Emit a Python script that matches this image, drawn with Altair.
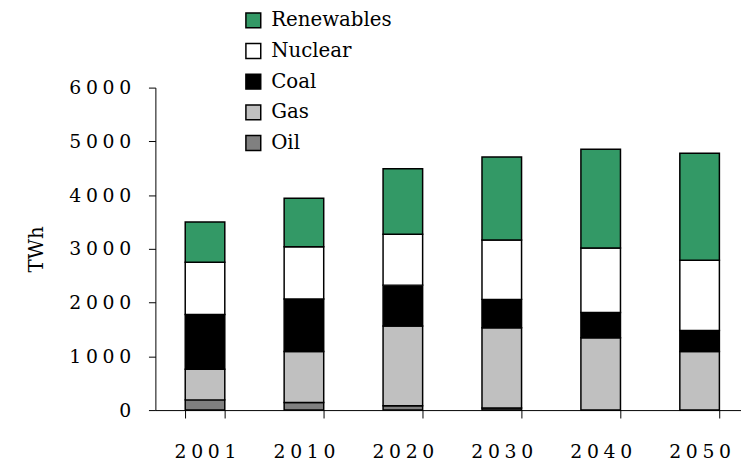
import altair as alt
import pandas as pd

years = ["2001", "2010", "2020", "2030", "2040", "2050"]
sources = ["Renewables", "Nuclear", "Coal", "Gas", "Oil"]
stack_rank = {"Oil": 0, "Gas": 1, "Coal": 2, "Nuclear": 3, "Renewables": 4}
colors = ["#339966", "#ffffff", "#000000", "#c0c0c0", "#808080"]

oil = [190, 140, 80, 40, 0, 0]
gas = [570, 950, 1485, 1490, 1345, 1090]
coal = [1020, 975, 760, 530, 470, 390]
nuclear = [970, 975, 945, 1105, 1200, 1310]
renewables = [750, 900, 1220, 1545, 1840, 1990]

series = {"Oil": oil, "Gas": gas, "Coal": coal, "Nuclear": nuclear, "Renewables": renewables}
rows = []
for src, vals in series.items():
    for y, v in zip(years, vals):
        rows.append({"year": y, "source": src, "twh": v, "rank": stack_rank[src]})
df = pd.DataFrame(rows)

FONT = "DejaVu Serif"
spaced = "join(split(datum.label, ''), '\u2005')"

chart = alt.Chart(df).mark_bar(stroke="black", strokeWidth=1.5).encode(
    x=alt.X("year:N", sort=years, title=None,
            scale=alt.Scale(type="band", paddingInner=0.6, paddingOuter=0.26,
                            align=0.58, round=False),
            axis=alt.Axis(labelAngle=0, tickBand="extent", tickSize=8,
                          labelPadding=25, labelFontSize=19, labelFont=FONT,
                          labelColor="black", domainColor="black", tickColor="black",
                          labelExpr=spaced, grid=False)),
    y=alt.Y("twh:Q", stack="zero", title="TWh",
            scale=alt.Scale(domain=[0, 6000], nice=False),
            axis=alt.Axis(values=[0, 1000, 2000, 3000, 4000, 5000, 6000], format="d",
                          tickSize=7, labelPadding=18, labelFontSize=19, labelFont=FONT,
                          labelColor="black", domainColor="black", tickColor="black",
                          labelExpr=spaced, grid=False,
                          titleFont=FONT, titleFontSize=20, titleFontWeight="normal",
                          titleColor="black", titlePadding=23)),
    color=alt.Color("source:N", title=None,
                    scale=alt.Scale(domain=sources, range=colors),
                    legend=alt.Legend(orient="none", legendX=89, legendY=-78,
                                      symbolType="square", symbolSize=225,
                                      symbolStrokeColor="black", symbolStrokeWidth=1.5,
                                      symbolOpacity=1,
                                      labelFont=FONT, labelFontSize=20, labelColor="black",
                                      rowPadding=9, labelOffset=8, padding=0)),
    order=alt.Order("rank:Q", sort="ascending"),
).properties(
    width=592, height=326,
    autosize=alt.AutoSizeParams(type="none"),
    padding={"left": 149, "top": 78, "right": 0, "bottom": 50},
).configure_view(stroke=None)

chart.save("out.html", embed_options={"renderer": "svg", "actions": False})
